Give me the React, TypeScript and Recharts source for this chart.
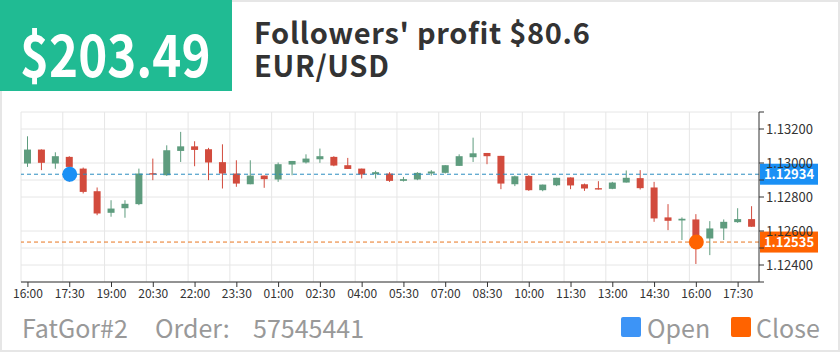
import { ComposedChart, Bar, XAxis, YAxis, CartesianGrid, ReferenceLine, ReferenceDot } from 'recharts';

// 30-minute candles, 16:00 to 18:00 next day
const times = [
  '16:00', '16:30', '17:00', '17:30', '18:00', '18:30', '19:00', '19:30', '20:00', '20:30',
  '21:00', '21:30', '22:00', '22:30', '23:00', '23:30', '00:00', '00:30', '01:00', '01:30',
  '02:00', '02:30', '03:00', '03:30', '04:00', '04:30', '05:00', '05:30', '06:00', '06:30',
  '07:00', '07:30', '08:00', '08:30', '09:00', '09:30', '10:00', '10:30', '11:00', '11:30',
  '12:00', '12:30', '13:00', '13:30', '14:00', '14:30', '15:00', '15:30', '16:00', '16:30',
  '17:00', '17:30', '18:00',
];

const opens = [
  1.12997, 1.13079, 1.12997, 1.13036, 1.12967, 1.12834, 1.12707, 1.12734, 1.12758, 1.1294,
  1.12928, 1.13071, 1.13098, 1.13081, 1.13005, 1.12938, 1.12875, 1.12926, 1.12903, 1.12991,
  1.13003, 1.13022, 1.13036, 1.12987, 1.12967, 1.12934, 1.12938, 1.12895, 1.12903, 1.12938,
  1.12942, 1.12983, 1.13034, 1.13059, 1.13042, 1.12875, 1.12924, 1.1284, 1.12869, 1.12915,
  1.12875, 1.12852, 1.12848, 1.12885, 1.12911, 1.12856, 1.1268, 1.12662, 1.12668, 1.12556,
  1.12615, 1.12652, 1.1267,
];
const closes = [
  1.13079, 1.13001, 1.1304, 1.12977, 1.1283, 1.12703, 1.12732, 1.1276, 1.12938, 1.12932,
  1.13075, 1.13098, 1.13077, 1.13003, 1.12938, 1.12879, 1.12926, 1.12905, 1.12993, 1.13012,
  1.13026, 1.1304, 1.12985, 1.12965, 1.12932, 1.12946, 1.12895, 1.12905, 1.12942, 1.1295,
  1.12987, 1.1304, 1.13057, 1.1304, 1.12879, 1.12922, 1.1284, 1.12873, 1.12913, 1.12868,
  1.1285, 1.12844, 1.12885, 1.12913, 1.12852, 1.12674, 1.1266, 1.12672, 1.12535, 1.12615,
  1.12654, 1.1267, 1.12625,
];
const highs = [
  1.13157, 1.1308, 1.13063, 1.1304, 1.12973, 1.12856, 1.12781, 1.12781, 1.12967, 1.13026,
  1.13104, 1.13183, 1.13128, 1.13089, 1.1311, 1.13016, 1.13016, 1.12926, 1.13003, 1.13012,
  1.13051, 1.13085, 1.1304, 1.1303, 1.12967, 1.12954, 1.12946, 1.12918, 1.12946, 1.12958,
  1.12987, 1.13051, 1.13149, 1.13059, 1.13042, 1.12926, 1.12928, 1.12873, 1.12913, 1.12915,
  1.12879, 1.12893, 1.12889, 1.12956, 1.12958, 1.12889, 1.12758, 1.1268, 1.12699, 1.12658,
  1.12668, 1.12734, 1.12746,
];
const lows = [
  1.12977, 1.12958, 1.12966, 1.12889, 1.12821, 1.12693, 1.12684, 1.12678, 1.12752, 1.12899,
  1.12924, 1.13006, 1.12981, 1.12899, 1.1285, 1.1286, 1.12875, 1.12854, 1.12889, 1.12928,
  1.12997, 1.13001, 1.12981, 1.12965, 1.12909, 1.12909, 1.12889, 1.12891, 1.12899, 1.12926,
  1.12938, 1.12983, 1.13006, 1.12993, 1.12846, 1.12864, 1.12836, 1.12834, 1.12864, 1.12846,
  1.12836, 1.12844, 1.12846, 1.12885, 1.12844, 1.12654, 1.12605, 1.12547, 1.12406, 1.12458,
  1.12547, 1.12648, 1.12625,
];

const yTicks = [1.123, 1.124, 1.125, 1.126, 1.127, 1.128, 1.129, 1.13, 1.131, 1.132, 1.133];

const openPrice = 1.12934;
const closePrice = 1.12535;
const openIndex = 3;
const closeIndex = 48;

const UP = '#5e9c7e';
const DOWN = '#d24b3d';
const BLUE = '#1a90f5';
const ORANGE = '#ff6300';
const FONT = '"Noto Sans CJK SC", "Noto Sans", sans-serif';

const data = times.map((t, i) => ({
  idx: i,
  time: t,
  o: opens[i],
  c: closes[i],
  h: highs[i],
  l: lows[i],
}));

function Candle(props: any) {
  const { x, y, width, height, payload } = props;
  const { o, c, h, l } = payload;
  const span = h - l || 1;
  const py = (v: number) => y + ((h - v) / span) * height;
  const color = c >= o ? UP : DOWN;
  const top = Math.min(py(o), py(c));
  const bh = Math.max(1, Math.abs(py(o) - py(c)));
  const cx = x + width / 2;
  return (
    <g>
      <line x1={cx} x2={cx} y1={y} y2={y + height} stroke={color} strokeWidth={1} />
      <rect x={x} y={top} width={width} height={bh} fill={color} />
    </g>
  );
}

function PriceTag(props: any) {
  const { viewBox, value, fill } = props;
  const x = viewBox.x + viewBox.width + 1;
  const y = viewBox.y;
  return (
    <g>
      <rect x={x} y={y - 10.5} width={58} height={21} fill={fill} />
      <text x={x + 29} y={y + 5} textAnchor="middle" fill="#fff" fontSize={13} fontFamily={FONT} fontWeight={600}>
        {value.toFixed(5)}
      </text>
    </g>
  );
}

// grid lines sit on the left edge of every third candle slot
const gridX = ({ offset }: any) =>
  times
    .map((_, i) => i)
    .filter((i) => i % 3 === 0)
    .map((i) => offset.left + (i * offset.width) / times.length);

const footText = { position: 'absolute', top: 310, color: '#999', fontSize: 25, lineHeight: '34px', whiteSpace: 'nowrap' } as const;
const titleText = { position: 'absolute', left: 254, color: '#333', fontSize: 29, fontWeight: 700, letterSpacing: 0.7, lineHeight: '32px', whiteSpace: 'nowrap' } as const;

export default function App() {
  // the ends of the range and the two levels under the price tags carry no label
  const fmtY = (v: number) => {
    if (v < 1.1235 || v > 1.1325) return '';
    if (Math.abs(v - 1.129) < 1e-6 || Math.abs(v - 1.125) < 1e-6) return '';
    return v.toFixed(5);
  };

  return (
    <div style={{ position: 'relative', width: 840, height: 352, fontFamily: FONT, overflow: 'hidden' }}>
      <style>{`body { margin: 0; }`}</style>
      <div style={{ position: 'absolute', left: 0, top: 0, width: 840, height: 352, border: '2px solid #e6e6e6', boxSizing: 'border-box' }} />
      <div style={{ position: 'absolute', left: 0, top: 0, width: 232, height: 91, background: '#20bb93' }} />
      <div
        style={{
          position: 'absolute', left: 20, top: 10, color: '#fff', fontSize: 58, fontWeight: 700,
          lineHeight: '84px', transform: 'scaleX(0.85)', transformOrigin: 'left center', whiteSpace: 'nowrap',
        }}
      >
        $203.49
      </div>
      <div style={{ ...titleText, top: 15 }}>Followers' profit $80.6</div>
      <div style={{ ...titleText, top: 48 }}>EUR/USD</div>

      <div style={{ position: 'absolute', left: 0, top: 100 }}>
        <ComposedChart width={840} height={205} data={data} margin={{ top: 12, right: 21, bottom: 0, left: 21 }}>
          <CartesianGrid stroke="#e6e6e6" verticalCoordinatesGenerator={gridX} />
          <XAxis
            dataKey="idx"
            type="category"
            interval={2}
            tickFormatter={(i: number) => times[i]}
            tick={{ fontSize: 12, fill: '#333', fontFamily: FONT }}
            axisLine={{ stroke: '#333' }}
            tickLine={{ stroke: '#333' }}
            tickSize={5}
            height={23}
          />
          <YAxis
            orientation="right"
            domain={[1.123, 1.133]}
            ticks={yTicks}
            tickFormatter={fmtY}
            tick={{ fontSize: 13, fill: '#333', fontFamily: FONT }}
            axisLine={{ stroke: '#333' }}
            tickLine={{ stroke: '#333' }}
            tickSize={5}
            width={60}
            allowDataOverflow
          />
          <Bar dataKey={(d: any) => [d.l, d.h]} barSize={7} shape={<Candle />} isAnimationActive={false} />
          <ReferenceLine y={openPrice} stroke="#2a8cc0" strokeDasharray="4 3" label={<PriceTag value={openPrice} fill={BLUE} />} />
          <ReferenceLine y={closePrice} stroke="#e8761f" strokeDasharray="4 3" label={<PriceTag value={closePrice} fill={ORANGE} />} />
          <ReferenceDot x={openIndex} y={openPrice} r={7.5} fill={BLUE} stroke="none" />
          <ReferenceDot x={closeIndex} y={closePrice} r={7.5} fill={ORANGE} stroke="none" />
        </ComposedChart>
      </div>

      <div style={{ ...footText, left: 22 }}>FatGor#2</div>
      <div style={{ ...footText, left: 155 }}>Order:</div>
      <div style={{ ...footText, left: 253 }}>57545441</div>
      <div style={{ position: 'absolute', top: 317, left: 621, width: 20, height: 20, background: '#3d94f6', borderRadius: 2 }} />
      <div style={{ ...footText, left: 647 }}>Open</div>
      <div style={{ position: 'absolute', top: 317, left: 731, width: 20, height: 20, background: ORANGE, borderRadius: 2 }} />
      <div style={{ ...footText, left: 756 }}>Close</div>
    </div>
  );
}
